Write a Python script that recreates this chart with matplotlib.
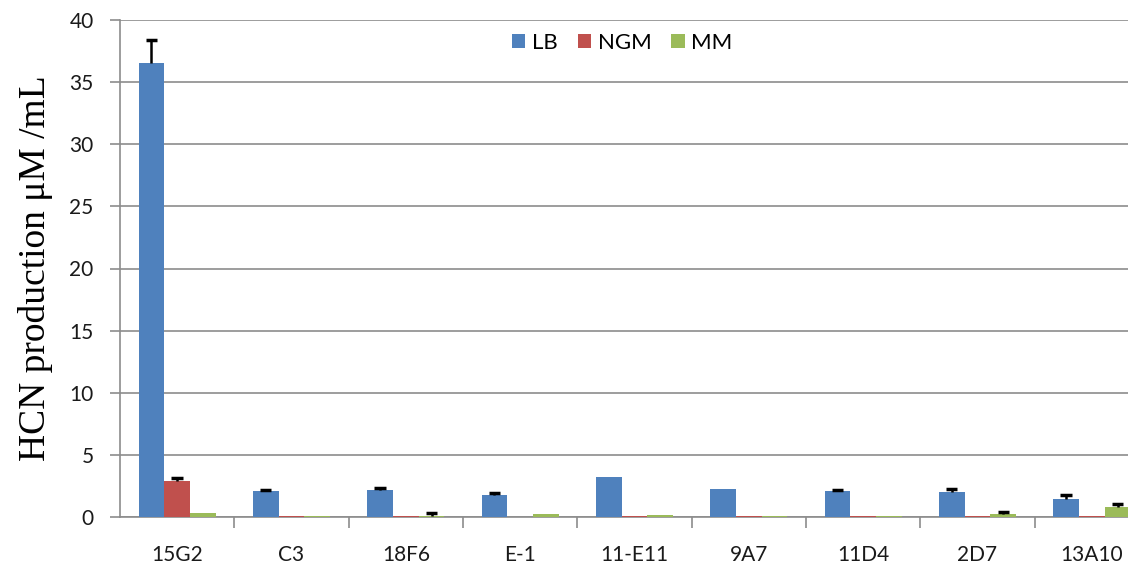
import numpy as np
import matplotlib.pyplot as plt

strains = ['15G2', 'C3', '18F6', 'E-1', '11-E11', '9A7', '11D4', '2D7', '13A10']
lb = [36.5, 2.07, 2.17, 1.77, 3.19, 2.23, 2.07, 1.98, 1.47]
ngm = [2.92, 0.08, 0.08, 0.0, 0.08, 0.08, 0.08, 0.08, 0.08]
mm = [0.32, 0.08, 0.10, 0.24, 0.20, 0.08, 0.08, 0.22, 0.80]
lb_err = [1.9, 0.1, 0.2, 0.15, 0.0, 0.0, 0.1, 0.3, 0.32]
ngm_err = [0.2, 0.0, 0.0, 0.0, 0.0, 0.0, 0.0, 0.0, 0.0]
mm_err = [0.0, 0.0, 0.2, 0.0, 0.0, 0.0, 0.0, 0.16, 0.25]

fig = plt.figure(figsize=(11.28, 5.71), dpi=100)
# axes runs past the right edge like the exported chart
ax = fig.add_axes([120 / 1128, 54 / 571, 1029 / 1128, 497 / 571])

x = np.arange(len(strains))
w = 0.225
cap = 0.05
series = [('LB', lb, lb_err, '#4f81bd'),
          ('NGM', ngm, ngm_err, '#c0504d'),
          ('MM', mm, mm_err, '#9bbb59')]
for i, (name, vals, err, col) in enumerate(series):
    pos = x + (i - 1) * w
    vals = np.array(vals)
    err = np.array(err)
    ax.bar(pos, vals, w, color=col, label=name, zorder=3)
    # plus-only error bars
    m = err > 0
    ax.vlines(pos[m], vals[m], vals[m] + err[m], color='black', lw=1.8, zorder=4)
    ax.hlines(vals[m] + err[m], pos[m] - cap, pos[m] + cap, color='black',
              lw=2.5, zorder=4)

ax.set_xlim(-0.5, len(strains) - 0.5)
ax.set_ylim(0, 40)
ax.set_yticks(range(0, 41, 5))
ax.yaxis.grid(True, color='#8c8c8c', linewidth=1.2, zorder=0)
ax.set_axisbelow(True)

for s in ['top', 'right']:
    ax.spines[s].set_visible(False)
for s in ['left', 'bottom']:
    ax.spines[s].set_color('#8c8c8c')
    ax.spines[s].set_linewidth(1.2)

ax.set_xticks(x)
ax.set_xticklabels(strains, fontsize=15, family='Lato', color='#1a1a1a')
ax.tick_params(axis='x', length=0, pad=20)
ax.set_xticks(np.arange(0.5, len(strains) - 0.5), minor=True)
ax.tick_params(axis='x', which='minor', length=8, width=1.2, color='#8c8c8c')
ax.tick_params(axis='y', length=7, width=1.2, color='#8c8c8c', pad=12,
               labelsize=15, labelcolor='#1a1a1a')
for t in ax.get_yticklabels():
    t.set_family('Lato')

ax.set_ylabel('HCN production μM /mL', family='Liberation Serif', fontsize=27,
              labelpad=12)

ax.legend(loc='upper center', bbox_to_anchor=(0.488, 1.015),
          ncol=3, frameon=False, handlelength=0.6, handleheight=0.6,
          handletextpad=0.3, columnspacing=0.9,
          prop={'family': 'Lato', 'size': 16})

fig.savefig('out.png', dpi=100)
